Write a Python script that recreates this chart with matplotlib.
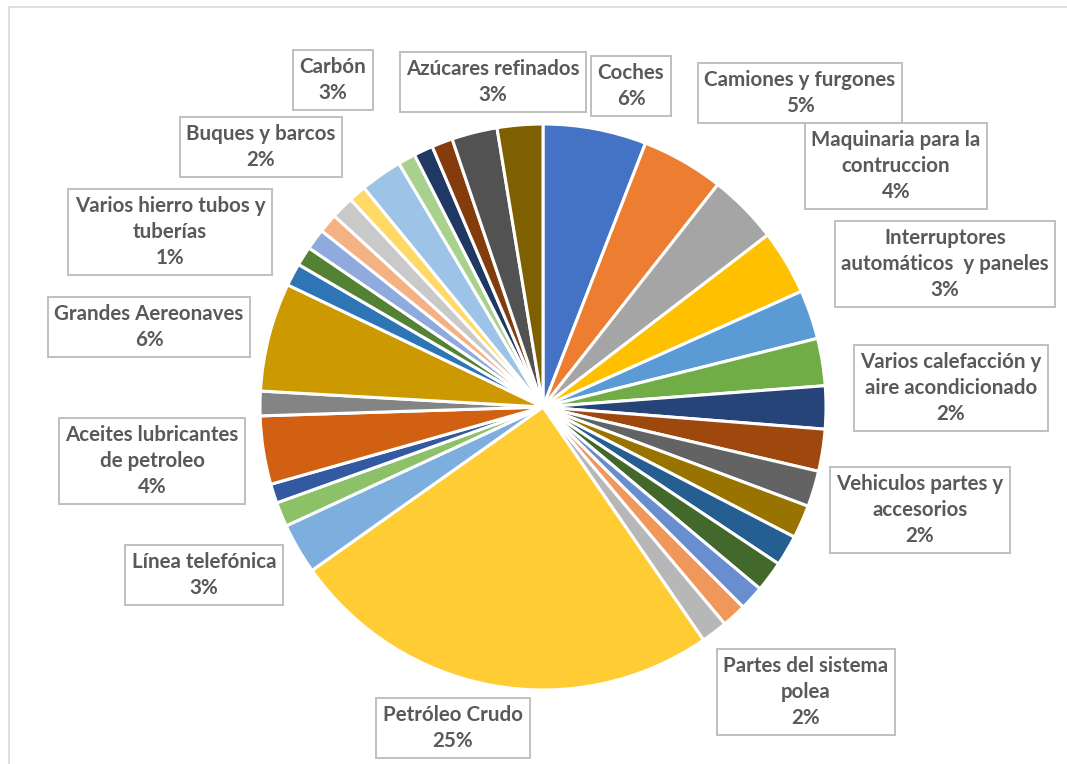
import matplotlib.pyplot as plt
from matplotlib.lines import Line2D

# slices clockwise from 12 o'clock ("" = slice has no data label in the chart)
categories = [
    "Coches", "Camiones y furgones", "Maquinaria para la\ncontruccion", "",
    "Interruptores\nautomáticos  y paneles", "", "Varios calefacción y\naire acondicionado",
    "", "", "Vehiculos partes y\naccesorios", "", "", "", "",
    "Partes del sistema\npolea", "Petróleo Crudo", "Línea telefónica", "", "",
    "Aceites lubricantes\nde petroleo", "", "Grandes Aereonaves", "",
    "Varios hierro tubos y\ntuberías", "", "", "", "", "Buques y barcos", "", "", "",
    "Carbón", "Azúcares refinados",
]
values = [
    5.9, 4.7, 4.0, 3.7, 2.8, 2.7, 2.45, 2.4, 2.05, 1.9, 1.75, 1.75, 1.4, 1.4,
    1.5, 24.8, 2.9, 1.4, 1.1, 3.9, 1.4, 6.2, 1.3, 1.1, 1.2, 1.1, 1.3, 1.0,
    2.4, 1.0, 1.1, 1.2, 2.6, 2.6,
]
colors = [
    "#4472C4", "#ED7D31", "#A5A5A5", "#FFC000", "#5B9BD5", "#70AD47",
    "#264478", "#9E480E", "#636363", "#997300", "#255E91", "#43682B",
    "#698ED0", "#F1975A", "#B7B7B7", "#FFCD33", "#7CAFDD", "#8CC168",
    "#335AA1", "#D26012", "#848484", "#CC9A00", "#2E75B6", "#548235",
    "#8FAADC", "#F4B183", "#C9C9C9", "#FFD966", "#9DC3E6", "#A9D18E",
    "#203864", "#843C0C", "#525252", "#7F6000",
]

# label box centres in pixels (layout only)
label_pos = {
    "Coches": (631, 86), "Camiones y furgones": (800, 93),
    "Maquinaria para la\ncontruccion": (896, 166),
    "Interruptores\nautomáticos  y paneles": (945, 264),
    "Varios calefacción y\naire acondicionado": (951, 388),
    "Vehiculos partes y\naccesorios": (920, 510),
    "Partes del sistema\npolea": (806, 692), "Petróleo Crudo": (453, 728),
    "Línea telefónica": (204, 575), "Aceites lubricantes\nde petroleo": (152, 461),
    "Grandes Aereonaves": (149, 327), "Varios hierro tubos y\ntuberías": (170, 232),
    "Buques y barcos": (261, 147), "Carbón": (333, 80),
    "Azúcares refinados": (493, 82),
}

W, H = 1067, 764
fig = plt.figure(figsize=(W / 100, H / 100), dpi=100)

cx, cy, r = 543, 407, 283
ax = fig.add_axes([(cx - r) / W, (H - cy - r) / H, 2 * r / W, 2 * r / H])
ax.pie(values, colors=colors, startangle=90, counterclock=False, radius=1,
       wedgeprops=dict(edgecolor="white", linewidth=2.2))
ax.set_xlim(-1, 1)
ax.set_ylim(-1, 1)
ax.axis("off")

total = sum(values)
for name, v in zip(categories, values):
    if not name:
        continue
    pct = int(v / total * 100 + 0.5)
    x, y = label_pos[name]
    fig.text(x / W, 1 - y / H, f"{name}\n{pct}%", ha="center", va="center",
             ma="center", fontsize=14.8, fontweight="bold", family="Lato",
             color="#595959", linespacing=1.4,
             bbox=dict(boxstyle="square,pad=0.32", fc="white", ec="#BFBFBF", lw=1.4))

# chart area border (only top and left edges are visible)
fig.add_artist(Line2D([9 / W, 1], [1 - 7 / H, 1 - 7 / H], color="#D9D9D9", lw=1.2))
fig.add_artist(Line2D([9 / W, 9 / W], [1 - 7 / H, 0], color="#D9D9D9", lw=1.2))

fig.savefig("out.png", dpi=100, facecolor="white")
